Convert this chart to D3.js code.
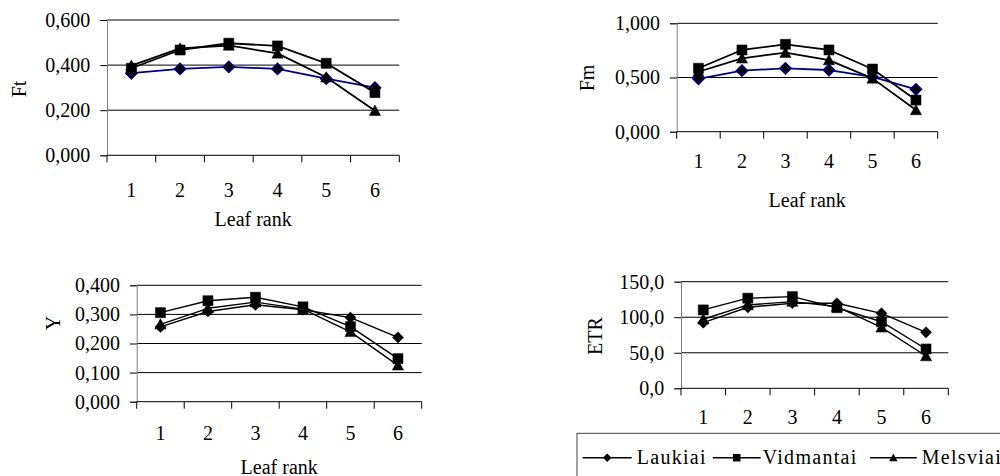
<!DOCTYPE html>
<html>
<head>
<meta charset="utf-8">
<script src="https://cdn.jsdelivr.net/npm/d3@7"></script>
<style>
  html, body { margin: 0; padding: 0; background: #fff; }
  svg { display: block; font-family: "Liberation Serif", "Times New Roman", serif; }
</style>
</head>
<body>
<svg id="chart" width="1000" height="476"></svg>
<script>
// Leaf ranks along the x axis
const categories = [1, 2, 3, 4, 5, 6];
const seriesNames = ["Laukiai", "Vidmantai", "Melsviai"];

// Ft
const ftLaukiai   = [0.364, 0.383, 0.392, 0.383, 0.340, 0.300];
const ftVidmantai = [0.386, 0.467, 0.497, 0.485, 0.408, 0.278];
const ftMelsviai  = [0.398, 0.474, 0.487, 0.452, 0.346, 0.198];
const ftTicks = [0, 0.2, 0.4, 0.6];

// Fm
const fmLaukiai   = [0.488, 0.563, 0.585, 0.569, 0.505, 0.391];
const fmVidmantai = [0.585, 0.754, 0.806, 0.754, 0.578, 0.292];
const fmMelsviai  = [0.553, 0.677, 0.729, 0.661, 0.492, 0.200];
const fmTicks = [0, 0.5, 1.0];

// Y
const yLaukiai   = [0.257, 0.310, 0.333, 0.316, 0.289, 0.221];
const yVidmantai = [0.306, 0.347, 0.359, 0.326, 0.258, 0.148];
const yMelsviai  = [0.266, 0.321, 0.342, 0.318, 0.240, 0.125];
const yTicks = [0, 0.1, 0.2, 0.3, 0.4];

// ETR
const etrLaukiai   = [92.4, 114.0, 119.7, 119.6, 105.5, 78.8];
const etrVidmantai = [110.3, 126.8, 129.0, 113.4, 93.7, 55.3];
const etrMelsviai  = [97.2, 117.3, 122.0, 115.0, 85.8, 45.4];
const etrTicks = [0, 50, 100, 150];

const xTitle = "Leaf rank";

const locale = d3.formatLocale({ decimal: ",", thousands: " ", grouping: [3], currency: ["", ""] });

// Panel layout: plot-area boxes and text placement
const panels = [
  { title: "Ft",  series: [ftLaukiai, ftVidmantai, ftMelsviai], ticks: ftTicks, fmt: locale.format(".3f"),
    x0: 107, x1: 399.3, yBottom: 155.3, yTop: 20, titleX: 19, titleY: 89,
    tickLabelY: 197, xTitleY: 226, navyFirst: true, lw: 1.8 },
  { title: "Fm",  series: [fmLaukiai, fmVidmantai, fmMelsviai], ticks: fmTicks, fmt: locale.format(".3f"),
    x0: 676.7, x1: 937.7, yBottom: 131.7, yTop: 23.3, titleX: 587, titleY: 78,
    tickLabelY: 168, xTitleY: 207, navyFirst: true, lw: 1.8 },
  { title: "Y",   series: [yLaukiai, yVidmantai, yMelsviai], ticks: yTicks, fmt: locale.format(".3f"),
    x0: 136.7, x1: 421.7, yBottom: 401.7, yTop: 285.3, titleX: 53, titleY: 323,
    tickLabelY: 440, xTitleY: 474, navyFirst: false, lw: 1.4 },
  { title: "ETR", series: [etrLaukiai, etrVidmantai, etrMelsviai], ticks: etrTicks, fmt: locale.format(".1f"),
    x0: 681, x1: 948.3, yBottom: 388.3, yTop: 281.7, titleX: 595, titleY: 336,
    tickLabelY: 424, xTitleY: null, navyFirst: false, lw: 1.4 }
];

const markerPaths = {
  Laukiai:   r => `M0,${-r}L${r},0L0,${r}L${-r},0Z`,
  Vidmantai: r => `M${-r * 0.9},${-r * 0.9}H${r * 0.9}V${r * 0.9}H${-r * 0.9}Z`,
  Melsviai:  r => `M0,${-r}L${r},${r * 0.85}L${-r},${r * 0.85}Z`
};

const svg = d3.select("#chart");

panels.forEach(p => {
  const g = svg.append("g");
  const x = d3.scaleBand().domain(categories).range([p.x0, p.x1]).padding(0);
  const y = d3.scaleLinear().domain([p.ticks[0], p.ticks[p.ticks.length - 1]]).range([p.yBottom, p.yTop]);

  // horizontal gridlines
  g.selectAll("line.grid").data(p.ticks.slice(1)).join("line")
    .attr("x1", p.x0).attr("x2", p.x1)
    .attr("y1", d => y(d)).attr("y2", d => y(d))
    .attr("stroke", "#000").attr("stroke-width", 1);

  // y axis
  const yAxis = g.append("g").attr("transform", `translate(${p.x0},0)`)
    .call(d3.axisLeft(y).tickValues(p.ticks).tickSize(6.7).tickPadding(10).tickFormat(p.fmt));
  yAxis.select(".domain").attr("stroke", "#808080").attr("stroke-width", 1);
  yAxis.selectAll(".tick line").attr("stroke", "#000");
  yAxis.selectAll(".tick text").attr("font-size", 20).attr("font-family", "Liberation Serif").attr("fill", "#000");

  // x axis baseline with ticks at category boundaries
  g.append("line").attr("x1", p.x0).attr("x2", p.x1)
    .attr("y1", p.yBottom).attr("y2", p.yBottom).attr("stroke", "#000");
  const bounds = categories.map(c => x(c)).concat([p.x1]);
  g.selectAll("line.xt").data(bounds).join("line")
    .attr("x1", d => d).attr("x2", d => d)
    .attr("y1", p.yBottom).attr("y2", p.yBottom + 7)
    .attr("stroke", "#000");
  g.selectAll("text.xl").data(categories).join("text")
    .attr("x", d => x(d) + x.bandwidth() / 2).attr("y", p.tickLabelY)
    .attr("text-anchor", "middle").attr("font-size", 20).text(d => d);

  // axis titles
  g.append("text")
    .attr("transform", `translate(${p.titleX},${p.titleY}) rotate(-90)`)
    .attr("text-anchor", "middle").attr("dominant-baseline", "central")
    .attr("font-size", 20).text(p.title);
  if (p.xTitleY !== null) {
    g.append("text").attr("x", (p.x0 + p.x1) / 2).attr("y", p.xTitleY)
      .attr("text-anchor", "middle").attr("font-size", 20).text(xTitle);
  }

  // series lines and markers
  const line = d3.line().x((d, i) => x(categories[i]) + x.bandwidth() / 2).y(d => y(d));
  p.series.forEach((vals, si) => {
    const name = seriesNames[si];
    const navy = p.navyFirst && si === 0;
    g.append("path").datum(vals).attr("d", line)
      .attr("fill", "none").attr("stroke", navy ? "#000080" : "#000")
      .attr("stroke-width", p.lw).attr("stroke-linejoin", "round");
    g.selectAll(`path.m${si}`).data(vals).join("path")
      .attr("transform", (d, i) => `translate(${x(categories[i]) + x.bandwidth() / 2},${y(d)})`)
      .attr("d", markerPaths[name](5.6))
      .attr("fill", "#000")
      .attr("stroke", navy ? "#000080" : "#000").attr("stroke-width", navy ? 1.5 : 0.5);
  });
});

// Legend
const legend = svg.append("g");
legend.append("rect").attr("x", 577).attr("y", 433.3).attr("width", 500).attr("height", 100)
  .attr("fill", "#fff").attr("stroke", "#444").attr("stroke-width", 1);
const legendItems = [
  { x0: 582.7, x1: 631.7, tx: 636.7 },
  { x0: 712.7, x1: 760.7, tx: 762.7 },
  { x0: 870,   x1: 916.7, tx: 921.7 }
];
seriesNames.forEach((name, i) => {
  const it = legendItems[i];
  const ly = 457.7;
  legend.append("line").attr("x1", it.x0).attr("x2", it.x1).attr("y1", ly).attr("y2", ly)
    .attr("stroke", "#000").attr("stroke-width", 1.5);
  legend.append("path").attr("transform", `translate(${(it.x0 + it.x1) / 2},${ly})`)
    .attr("d", markerPaths[name](4.2)).attr("fill", "#000");
  legend.append("text").attr("x", it.tx).attr("y", 464.3).attr("font-size", 20)
    .attr("letter-spacing", "1.3px").text(name);
});
</script>
</body>
</html>
